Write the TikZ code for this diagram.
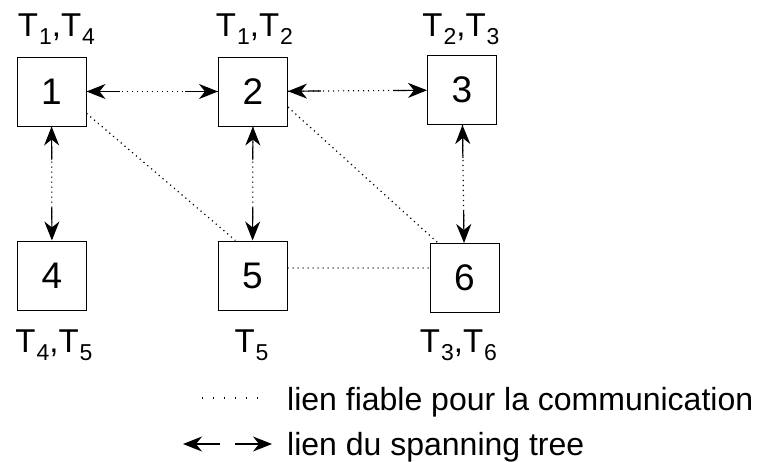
\documentclass[tikz,border=0pt]{standalone}
\usepackage{fontspec}
\setmainfont{Liberation Sans}
\usetikzlibrary{arrows.meta,calc}
\newcommand\lowsub[1]{\kern1pt\raisebox{-8pt}{\fontsize{23}{25}\selectfont #1}}

\begin{document}
\begin{tikzpicture}[x=1pt,y=-1pt,
    site/.style={draw=black,line width=1pt,rectangle,inner sep=0pt,minimum size=69pt,font=\fontsize{37}{40}\selectfont},
    lab/.style={anchor=base,inner sep=0pt,font=\fontsize{33}{38}\selectfont},
    leg/.style={anchor=base west,inner sep=0pt,font=\fontsize{32}{36}\selectfont},
    rel/.style={line width=1.2pt,dash pattern=on 1.2pt off 3.8pt},
    tree/.style={line width=1.2pt,-{Stealth[length=19pt,width=15pt,inset=6pt]}}]
                \useasboundingbox (0,0) rectangle (758,461);

                \node[site] (1) at (51.5,91.5) {1};
                \node[site] (2) at (253,91.5) {2};
                \node[site] (3) at (462,90) {3};
                \node[site] (4) at (52,275.5) {4};
                \node[site] (5) at (252.5,275.5) {5};
                \node[site] (6) at (464.5,278) {6};

                \node[lab] (t1) at (56.5,36) {T\lowsub{1},T\lowsub{4}};
                \node[lab] (t2) at (254.5,36) {T\lowsub{1},T\lowsub{2}};
                \node[lab] (t3) at (461,36) {T\lowsub{2},T\lowsub{3}};
                \node[lab] (t4) at (54,352) {T\lowsub{4},T\lowsub{5}};
                \node[lab] (t5) at (251.5,352) {T\lowsub{5}};
                \node[lab] (t6) at (458.5,352) {T\lowsub{3},T\lowsub{6}};

                % spanning tree links
                \foreach \a/\b in {1/2,2/3,1/4,2/5,3/6} {
                    \path (\a) -- (\b) coordinate[pos=0] (s) coordinate[pos=1] (e);
                    \draw[rel] (s) -- (e);
                    \draw[tree] ($(s)!33pt!(e)$) -- (s);
                    \draw[tree] ($(e)!33pt!(s)$) -- (e);
                }

                % reliable links
                \draw[rel] (1.-32) -- (5.116);
                \draw[rel] (2.-24) -- (6.127);
                \draw[rel] (5.12) -- (6.164);

                % legend
                \coordinate (d1) at (202,398);
                \coordinate (d2) at (262,398);
                \draw[line width=1.3pt,dash pattern=on 1.3pt off 9.7pt] (d1) -- (d2);
                \node[leg] (l1) at (287,410) {lien fiable pour la communication};
                \coordinate (a1) at (220,444);
                \coordinate (a2) at (183,444);
                \coordinate (a3) at (235,444);
                \coordinate (a4) at (272,444);
                \draw[tree] (a1) -- (a2);
                \draw[tree] (a3) -- (a4);
                \node[leg] (l2) at (287,455) {lien du spanning tree};
            \end{tikzpicture}
\end{document}
